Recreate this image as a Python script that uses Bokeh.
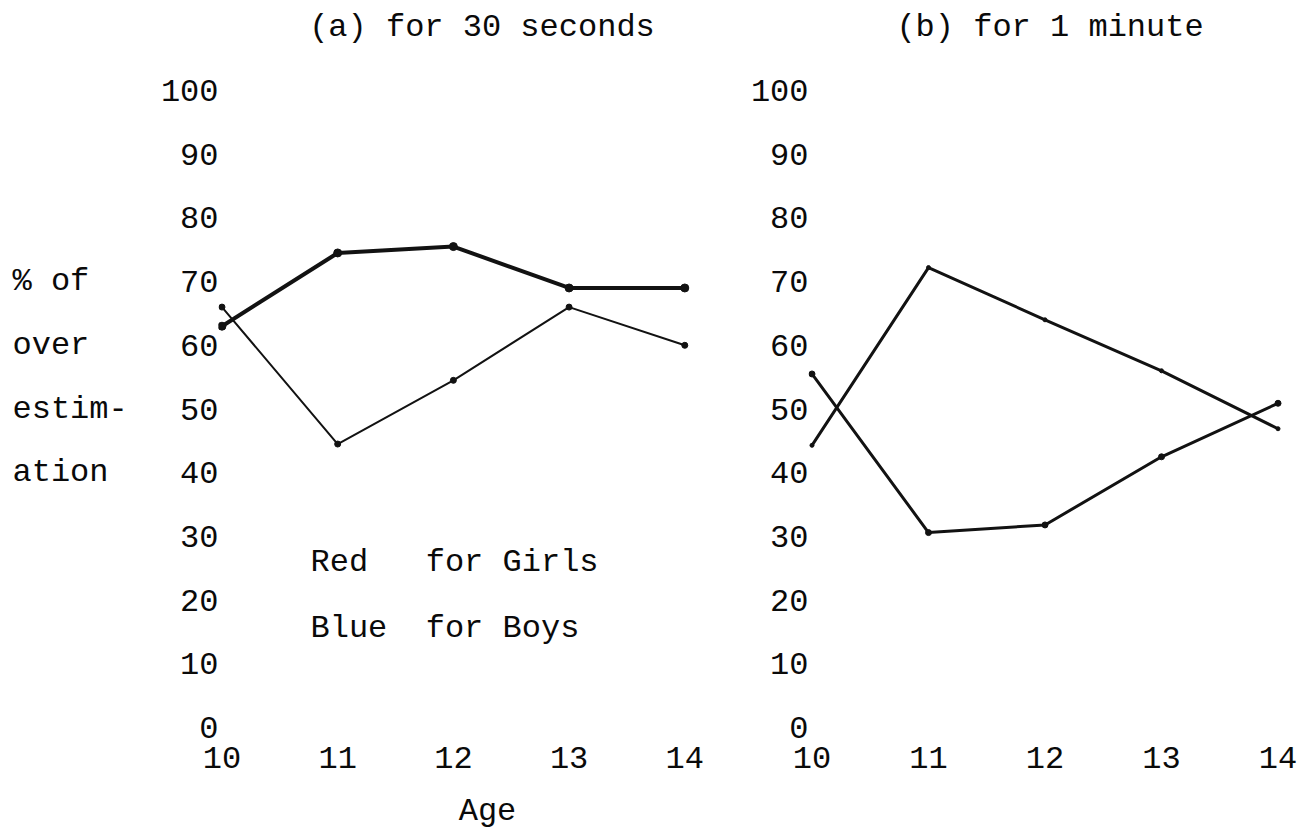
from bokeh.plotting import figure
from bokeh.layouts import row, column
from bokeh.models import FixedTicker, Label, Range1d
from bokeh.embed import file_html
from bokeh.resources import INLINE

# ---- data ----
ages = [10, 11, 12, 13, 14]
y_ticks = [0, 10, 20, 30, 40, 50, 60, 70, 80, 90, 100]
x_ticks = [10, 11, 12, 13, 14]

# (a) for 30 seconds
a_heavy = [63.0, 74.5, 75.5, 69.0, 69.0]
a_light = [66.0, 44.5, 54.5, 66.0, 60.0]
# (b) for 1 minute
b_line1 = [44.3, 72.2, 64.0, 56.0, 46.9]
b_line2 = [55.5, 30.6, 31.8, 42.5, 50.9]

title_a = "(a) for 30 seconds"
title_b = "(b) for 1 minute"
y_title_lines = ["% of", "over", "estim-", "ation"]
y_title_levels = [70, 60, 50, 40]
legend_lines = ["Red\u00a0\u00a0\u00a0for Girls", "Blue\u00a0\u00a0for Boys"]
x_title = "Age"

FONT = "Liberation Mono"
FS = "32px"
FSTYLE = "normal"
INK = "#0a0a0a"
LINE = "#121212"

MAIN_H = 790
yr = Range1d(-2.04, 114.13)


def base(width, mbl, mbr, xr, axes=True):
    kw = dict(width=width, height=MAIN_H, x_range=Range1d(*xr), y_range=yr,
              min_border_left=mbl, min_border_right=mbr, min_border_top=0,
              min_border_bottom=50, output_backend="svg", toolbar_location=None,
              title=None)
    if not axes:
        kw.update(x_axis_type=None, y_axis_type=None)
    p = figure(**kw)
    p.background_fill_color = "white"
    p.border_fill_color = "white"
    p.outline_line_color = None
    p.grid.visible = False
    if axes:
        for ax in (p.xaxis[0], p.yaxis[0]):
            ax.axis_line_color = None
            ax.major_tick_line_color = None
            ax.minor_tick_line_color = None
            ax.major_tick_out = 0
            ax.major_tick_in = 0
            ax.major_label_text_font = FONT
            ax.major_label_text_font_size = FS
            ax.major_label_text_font_style = FSTYLE
            ax.major_label_text_color = INK
        p.yaxis[0].ticker = FixedTicker(ticks=y_ticks)
        p.xaxis[0].ticker = FixedTicker(ticks=x_ticks)
        p.yaxis[0].major_label_standoff = 0
        p.xaxis[0].major_label_standoff = 6
    return p


def lab(p, x, y, text, align="left", baseline="middle"):
    p.add_layout(Label(x=x, y=y, text=text, text_font=FONT, text_font_size=FS,
                       text_font_style=FSTYLE, text_color=INK,
                       text_align=align, text_baseline=baseline))


# side column with the y-axis title, typed line by line
p0 = base(150, 0, 0, (0, 150), axes=False)
for t, lv in zip(y_title_lines, y_title_levels):
    lab(p0, 12, lv, t)

# panel (a)
pa = base(597, 68, 0, (9.97, 14.542))
pa.line(ages, a_heavy, line_width=4, color=LINE)
pa.scatter(ages, a_heavy, size=8, color=LINE)
pa.line(ages, a_light, line_width=2, color=LINE)
pa.scatter(ages, a_light, size=6, color=LINE)
lab(pa, 12.247, 109.9, title_a, "center")
lab(pa, 10.765, 25.9, legend_lines[0])
lab(pa, 10.765, 15.54, legend_lines[1])

# panel (b)
pb = base(553, 60, 5, (9.97, 14.15))
pb.line(ages, b_line1, line_width=3, color=LINE)
pb.scatter(ages, b_line1, size=4, color=LINE)
pb.line(ages, b_line2, line_width=3, color=LINE)
pb.scatter(ages, b_line2, size=6, color=LINE)
lab(pb, 12.043, 109.9, title_b, "center")

# bottom strip carrying the x-axis title
STRIP_H = 42
strip = figure(width=1300, height=STRIP_H, x_range=Range1d(0, 1300),
               y_range=Range1d(0, STRIP_H), x_axis_type=None, y_axis_type=None,
               min_border_left=0, min_border_right=0, min_border_top=0,
               min_border_bottom=0, output_backend="svg", toolbar_location=None,
               title=None)
strip.outline_line_color = None
strip.grid.visible = False
lab(strip, 487, 21, x_title, "center", "middle")

layout = column(row(p0, pa, pb), strip)
open("out.html", "w").write(file_html(layout, INLINE))
